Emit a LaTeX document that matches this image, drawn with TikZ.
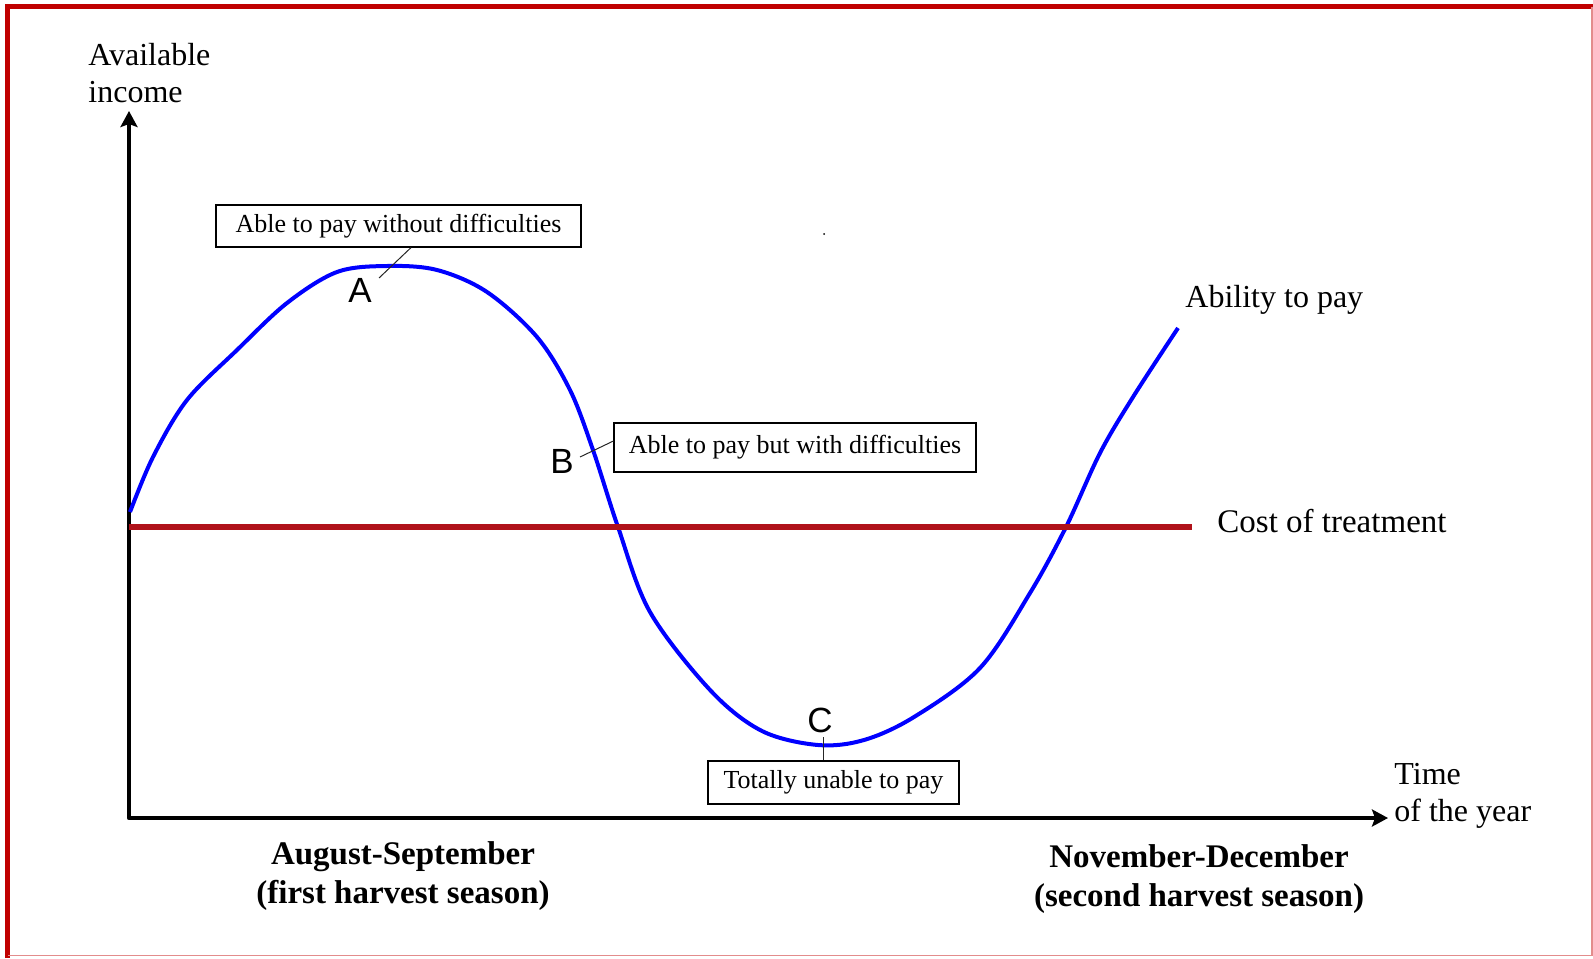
\documentclass[tikz,border=0pt]{standalone}
\usepackage{fontspec}
\setmainfont{Liberation Serif}
\setsansfont{Liberation Sans}
\usepackage{xcolor}
\usetikzlibrary{arrows.meta,positioning}
\definecolor{framecolor}{RGB}{192,0,0}
\definecolor{costcolor}{RGB}{176,18,26}
\definecolor{curvecolor}{RGB}{0,0,255}

\begin{document}
\begin{tikzpicture}[
    x=0.5pt, y=-0.5pt,
    label/.style={inner sep=0pt, font=\fontsize{16}{18.5}\selectfont},
    season/.style={inner sep=0pt, align=center, font=\fontsize{16.5}{19.5}\selectfont\bfseries},
    callout/.style={rectangle, draw=black, line width=0.6pt, inner sep=0pt, text centered, font=\fontsize{13}{15}\selectfont},
    point/.style={inner sep=0pt, font=\fontsize{17.5}{20}\selectfont\sffamily},
    leader/.style={line width=0.5pt, draw=black!85},
    axis/.style={line width=2.2pt, line join=round, <->, >={Stealth[length=8pt,width=8.5pt,inset=1.5pt]}},
    cost/.style={line width=3pt, draw=costcolor},
    curve/.style={line width=2pt, draw=curvecolor}
]

% Frame
\useasboundingbox (0,0) rectangle (1593,958);
\draw[framecolor, line width=2.5pt] (7.5,958) -- (7.5,6.5) -- (1593,6.5);
\draw[framecolor!45, line width=0.6pt] (1592,6.5) -- (1592,955.5) -- (7.5,955.5);

% Axes
\coordinate (origin) at (129,818);
\coordinate (ytip) at (129,111);
\coordinate (xtip) at (1388,818);
\draw[axis] (ytip) -- (origin) -- (xtip);

% Ability to pay
\draw[curve] plot[smooth, tension=0.55] coordinates {(130,512) (153,457) (187,400) (237,350) (287,303) (337,272) (387,266) (437,270) (487,292) (537,337) (570,390) (593,450) (618,527) (650,612) (711,691) (762,731) (818,745) (864,740) (914,717) (980,668) (1030,593) (1066,527) (1100,453) (1133,397) (1178,328)};

% Cost of treatment
\coordinate (cost start) at (129,527);
\coordinate (cost end) at (1192,527);
\draw[cost] (cost start) -- (cost end);

% Callouts
\node[callout, minimum width=182.5pt, minimum height=21pt] (boxA) at (398.5,226) {Able to pay without difficulties};
\node[callout, minimum width=181pt, minimum height=24.5pt] (boxB) at (795,447.5) {Able to pay but with difficulties};
\node[callout, minimum width=125.5pt, minimum height=21.5pt] (boxC) at (833.5,782.5) {Totally unable to pay};

\node[point] (A) at (360,290) {A};
\node[point] (B) at (562,461) {B};
\node[point] (C) at (820,720) {C};

\coordinate (A tip) at (379,278);
\coordinate (B tip) at (580,457);
\coordinate (C tip) at (823,737);
\draw[leader] (A tip) -- ([xshift=6.25pt]boxA.south);
\draw[leader] (B tip) -- ([yshift=3.25pt]boxB.west);
\draw[leader] (C tip) -- (C tip |- boxC.north);

% Labels
\node[label, align=left, anchor=north west] (income) at (88,43) {Available\\income};
\node[label, align=left, anchor=north west] (time) at (1394,763) {Time\\of the year};
\node[label, anchor=base west] (ability) at (1185,307) {Ability to pay};
\node[label, anchor=base west, font=\fontsize{16.5}{18.5}\selectfont] (costlabel) at (1217,532) {Cost of treatment};
\node[season, anchor=north] (first) at (403,841) {August-September\\(first harvest season)};
\node[season, anchor=north] (second) at (1199,844) {November-December\\(second harvest season)};

\fill (824,234) circle (1);

\end{tikzpicture}
\end{document}
